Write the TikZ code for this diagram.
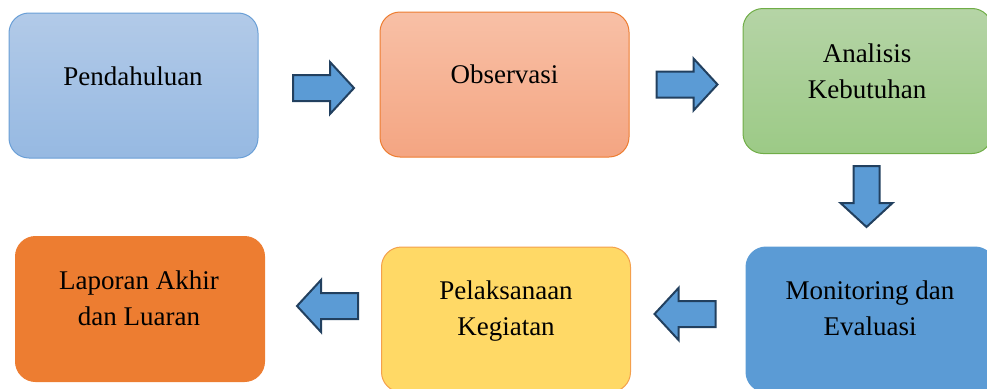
\documentclass[tikz,border=0pt]{standalone}
\usepackage{fontspec}
\setmainfont{Liberation Serif}
\newfontfamily\tnr{Liberation Serif}
\definecolor{blueT}{HTML}{B2CAE8}
\definecolor{blueB}{HTML}{96B9E2}
\definecolor{blueL}{HTML}{6A9FD6}
\definecolor{orT}{HTML}{F8C0A6}
\definecolor{orB}{HTML}{F4A582}
\definecolor{orL}{HTML}{ED7D31}
\definecolor{grT}{HTML}{B5D4A6}
\definecolor{grB}{HTML}{9CCA86}
\definecolor{grL}{HTML}{70AD47}
\definecolor{monF}{HTML}{5B9BD5}
\definecolor{yelF}{HTML}{FFD966}
\definecolor{yelL}{HTML}{F4A04C}
\definecolor{lapF}{HTML}{ED7D31}
\definecolor{arrowfill}{HTML}{5B9BD5}
\definecolor{arrowline}{HTML}{22405F}
\begin{document}
\begin{tikzpicture}[x=1pt,y=-1pt,
  box/.style={rectangle, rounded corners=20pt, minimum width=249pt, minimum height=145pt, inner sep=0pt, line width=1pt},
  lbl/.style={font=\tnr\fontsize{27}{35.5}\selectfont, align=center, text=black, inner sep=0pt},
  arrowsty/.style={draw=arrowline, fill=arrowfill, line width=2pt, line join=miter},
  blockarr/.pic={
    \path[arrowsty] (-30.5,-13) -- (6.5,-13) -- (6.5,-26) -- (30.5,0)
      -- (6.5,26) -- (6.5,13) -- (-30.5,13) -- cycle;
    \coordinate (-tip) at (30.5,0);
  }
]
\useasboundingbox (0,0) rectangle (987,388);
\clip (0,0) rectangle (987,388);

% boxes
\node[box, draw=blueL, top color=blueT, bottom color=blueB] (b1) at (133.5,85.5) {};
\node[box, draw=orL, top color=orT, bottom color=orB] (b2) at (504.5,84.5) {};
\node[box, draw=grL, top color=grT, bottom color=grB] (b3) at (867.5,81) {};
\node[box, draw=monF, fill=monF] (b4) at (870.5,319.5) {};
\node[box, draw=yelL, fill=yelF] (b5) at (506,319.5) {};
\node[box, draw=lapF, fill=lapF] (b6) at (140,309) {};

% labels
\node[lbl, anchor=base] (t1) at (133,85) {Pendahuluan};
\node[lbl, anchor=base] (t2) at (504.5,83) {Observasi};
\node[lbl] (t3) at (867,71.5) {Analisis\\Kebutuhan};
\node[lbl] (t4) at (870,308.5) {Monitoring dan\\Evaluasi};
\node[lbl] (t5) at (506,311) {Pelaksanaan\\Kegiatan};
\node[lbl] (t6) at (139,298.5) {Laporan Akhir\\dan Luaran};

% block arrows
\pic (a1) at (323.5,88) {blockarr};
\pic (a2) at (687,84.5) {blockarr};
\pic[rotate=-90] (a3) at (866.5,196.5) {blockarr};
\pic[rotate=180] (a4) at (685,314) {blockarr};
\pic[rotate=180] (a5) at (327.5,306) {blockarr};
\end{tikzpicture}
\end{document}
